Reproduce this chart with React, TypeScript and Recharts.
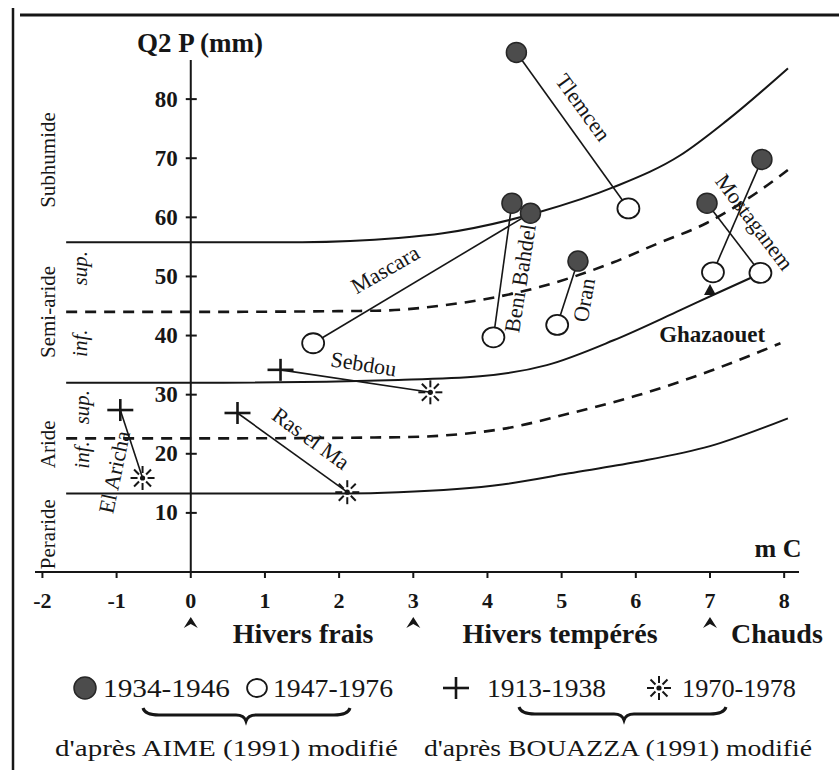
import React from 'react';
import { ComposedChart, Line, Scatter, XAxis, YAxis, ReferenceLine } from 'recharts';

const SERIF = '"Liberation Serif", "DejaVu Serif", serif';
const INK = '#161616';

const W = 839;
const H = 770;
const MARGIN = { top: 40, right: 40, bottom: 158, left: 35 };
const X_DOMAIN: [number, number] = [-2.1, 8.2];
const Y_DOMAIN: [number, number] = [0, 90];

// axes
const xTicks = [-2, -1, 0, 1, 2, 3, 4, 5, 6, 7, 8];
const yTicks = [10, 20, 30, 40, 50, 60, 70, 80];
const yAxisTop = 86.6;
const winterMarks = [0, 3, 7];

// bioclimatic limits [m, Q2]
const subhumideLimit = [[-1.68, 55.8], [0, 55.8], [1.5, 55.8], [2.8, 56.5], [3.4, 57.3], [4.7, 60.9], [5.7, 65.1], [6.6, 70.5], [7.23, 76.4], [8.05, 85.2]];
const semiArideSplit = [[-1.68, 44.0], [0, 44.0], [2.5, 44.2], [3.4, 45.1], [4.7, 48.2], [5.7, 52.4], [6.3, 55.6], [6.95, 59.0], [7.68, 64.6], [8.05, 68.0]];
const semiArideLimit = [[-1.68, 32.0], [0, 32.0], [2.8, 32.5], [3.9, 33.1], [4.8, 35.0], [5.7, 39.2], [6.6, 44.3], [7.1, 47.2], [7.68, 50.5]];
const arideSplit = [[-1.68, 22.6], [0, 22.6], [2.8, 22.8], [4.2, 24.2], [5.1, 26.8], [6.0, 29.8], [7.0, 34.0], [7.95, 38.7]];
const arideLimit = [[-1.68, 13.3], [0, 13.3], [2.1, 13.3], [2.8, 13.5], [4.2, 14.8], [5.1, 16.7], [6.0, 18.6], [7.0, 21.3], [8.05, 26.0]];

// stations: each pair joins two periods (A1 1934-46, A2 1947-76, B1 1913-38, B2 1970-78)
const tlemcen = [{ m: 4.39, q: 87.9, p: 'A1' }, { m: 5.9, q: 61.5, p: 'A2' }];
const mascara = [{ m: 1.65, q: 38.7, p: 'A2' }, { m: 4.58, q: 60.7, p: 'A1' }];
const beniBahdel = [{ m: 4.08, q: 39.7, p: 'A2' }, { m: 4.33, q: 62.4, p: 'A1' }];
const oran = [{ m: 4.94, q: 41.8, p: 'A2' }, { m: 5.22, q: 52.6, p: 'A1' }];
const mostaganemA = [{ m: 7.7, q: 69.8, p: 'A1' }, { m: 7.04, q: 50.7, p: 'A2' }];
const mostaganemB = [{ m: 6.96, q: 62.4, p: 'A1' }, { m: 7.68, q: 50.6, p: 'A2' }];
const sebdou = [{ m: 1.21, q: 34.2, p: 'B1' }, { m: 3.23, q: 30.4, p: 'B2' }];
const rasElMa = [{ m: 0.63, q: 26.9, p: 'B1' }, { m: 2.11, q: 13.5, p: 'B2' }];
const elAricha = [{ m: -0.95, q: 27.4, p: 'B1' }, { m: -0.65, q: 15.9, p: 'B2' }];
const ghazaouet = [{ m: 7.0, q: 47.7, p: 'T' }];

const stationLabels = [
  { m: 5.29, q: 78.6, text: 'Tlemcen', angle: 54 },
  { m: 2.62, q: 51.2, text: 'Mascara', angle: -30 },
  { m: 4.44, q: 49.7, text: 'Beni Bahdel', angle: -81 },
  { m: 5.3, q: 46.0, text: 'Oran', angle: -80 },
  { m: 7.6, q: 59.2, text: 'Mostaganem', angle: 53 },
  { m: 7.03, q: 40.1, text: 'Ghazaouet', angle: 0 },
  { m: 2.33, q: 35.2, text: 'Sebdou', angle: 9 },
  { m: 1.62, q: 22.6, text: 'Ras el Ma', angle: 36 },
  { m: -1.03, q: 16.9, text: 'El Aricha', angle: -78 },
];

const zoneLabels = [
  { m: -1.92, q: 69.7, text: 'Subhumide' },
  { m: -1.92, q: 44.0, text: 'Semi-aride' },
  { m: -1.49, q: 51.4, text: 'sup.' },
  { m: -1.49, q: 38.7, text: 'inf.' },
  { m: -1.92, q: 21.6, text: 'Aride' },
  { m: -1.47, q: 27.9, text: 'sup.' },
  { m: -1.47, q: 19.8, text: 'inf.' },
  { m: -1.92, q: 6.4, text: 'Peraride' },
];

const legendItems = [
  { p: 'A1', label: '1934-1946' },
  { p: 'A2', label: '1947-1976' },
  { p: 'B1', label: '1913-1938' },
  { p: 'B2', label: '1970-1978' },
];

const curve = (pts: number[][]) => pts.map(([m, q]) => ({ m, q }));

const plotW = W - MARGIN.left - MARGIN.right;
const px = (m: number) => MARGIN.left + ((m - X_DOMAIN[0]) / (X_DOMAIN[1] - X_DOMAIN[0])) * plotW;

function Marker({ p, cx, cy, s = 1 }: { p: string; cx: number; cy: number; s?: number }) {
  if (p === 'A1') {
    return <circle cx={cx} cy={cy} r={10 * s} fill="#4c4c4c" stroke="#262626" strokeWidth={1.5} />;
  }
  if (p === 'A2') {
    return <ellipse cx={cx} cy={cy} rx={11 * s} ry={10 * s} fill="#fff" stroke={INK} strokeWidth={1.8} />;
  }
  if (p === 'B1') {
    return (
      <g stroke={INK} strokeWidth={2.6}>
        <line x1={cx - 13} y1={cy} x2={cx + 13} y2={cy} />
        <line x1={cx} y1={cy - 11} x2={cx} y2={cy + 11} />
      </g>
    );
  }
  if (p === 'B2') {
    const rays = [0, 45, 90, 135, 180, 225, 270, 315];
    return (
      <g stroke={INK} strokeWidth={2}>
        {rays.map((a) => {
          const r = (a * Math.PI) / 180;
          return (
            <line key={a} x1={cx + 5 * Math.cos(r)} y1={cy + 5 * Math.sin(r)}
              x2={cx + 12 * Math.cos(r)} y2={cy + 12 * Math.sin(r)} />
          );
        })}
        <circle cx={cx} cy={cy} r={2.6} fill={INK} stroke="none" />
      </g>
    );
  }
  return <path d={`M${cx - 6},${cy + 5} L${cx},${cy - 6} L${cx + 6},${cy + 5} Z`} fill={INK} />;
}

const markerShape = (props: any) => <Marker p={props.payload.p} cx={props.cx} cy={props.cy} />;

const stationLabelShape = (props: any) => {
  const { cx, cy, payload } = props;
  const bold = payload.text === 'Ghazaouet';
  return (
    <text x={cx} y={cy} transform={`rotate(${payload.angle} ${cx} ${cy})`} textAnchor="middle"
      dominantBaseline="central" fontFamily={SERIF} fontSize={bold ? 23 : 22}
      fontWeight={bold ? 700 : 400} fill={INK}>
      {payload.text}
    </text>
  );
};

const zoneLabelShape = (props: any) => {
  const { cx, cy, payload } = props;
  const small = payload.text === 'sup.' || payload.text === 'inf.';
  return (
    <text x={cx} y={cy} transform={`rotate(-90 ${cx} ${cy})`} textAnchor="middle"
      dominantBaseline="central" fontFamily={SERIF} fontSize={21}
      fontStyle={small ? 'italic' : 'normal'} fill={INK}>
      {payload.text}
    </text>
  );
};

const yTickShape = (props: any) => {
  const { cx, cy, payload } = props;
  return (
    <g>
      <line x1={cx - 5} y1={cy} x2={cx + 6} y2={cy} stroke={INK} strokeWidth={2} />
      <text x={cx - 13} y={cy} textAnchor="end" dominantBaseline="central" fontFamily={SERIF}
        fontSize={23} fontWeight={700} fill={INK}>
        {payload.q}
      </text>
    </g>
  );
};

const brace = (x1: number, x2: number, tip: number, y: number) =>
  `M${x1},${y - 7} Q${x1 + 2},${y} ${x1 + 16},${y} L${tip - 10},${y} Q${tip - 2},${y} ${tip},${y + 6} ` +
  `Q${tip + 2},${y} ${tip + 10},${y} L${x2 - 16},${y} Q${x2 - 2},${y} ${x2},${y - 7}`;

export default function App() {
  const lineProps = { stroke: INK, strokeWidth: 1.6 };
  const legendX = [85, 257, 456, 659];
  const legendTextX = [103, 273, 487, 682];
  const legendLen = [127, 120, 119, 114];

  return (
    <div style={{ position: 'absolute', left: 0, top: 0, width: W, height: H, background: '#fff' }}>
      <ComposedChart width={W} height={H} margin={MARGIN}>
        <XAxis
          dataKey="m"
          type="number"
          domain={X_DOMAIN}
          ticks={xTicks}
          allowDataOverflow
          height={40}
          tickSize={6}
          tickMargin={14}
          axisLine={{ stroke: INK, strokeWidth: 2 }}
          tickLine={{ stroke: INK, strokeWidth: 2 }}
          tick={{ fontFamily: SERIF, fontSize: 22, fontWeight: 700, fill: INK }}
        />
        <YAxis dataKey="q" type="number" domain={Y_DOMAIN} allowDataOverflow hide width={0} />
        <ReferenceLine segment={[{ x: 0, y: 0 }, { x: 0, y: yAxisTop }]} stroke={INK} strokeWidth={2} />

        <Line data={curve(subhumideLimit)} dataKey="q" type="monotone" stroke={INK} strokeWidth={2}
          dot={false} activeDot={false} isAnimationActive={false} />
        <Line data={curve(semiArideSplit)} dataKey="q" type="monotone" stroke={INK} strokeWidth={2.6}
          strokeDasharray="11 8" dot={false} activeDot={false} isAnimationActive={false} />
        <Line data={curve(semiArideLimit)} dataKey="q" type="monotone" stroke={INK} strokeWidth={2}
          dot={false} activeDot={false} isAnimationActive={false} />
        <Line data={curve(arideSplit)} dataKey="q" type="monotone" stroke={INK} strokeWidth={2.6}
          strokeDasharray="11 8" dot={false} activeDot={false} isAnimationActive={false} />
        <Line data={curve(arideLimit)} dataKey="q" type="monotone" stroke={INK} strokeWidth={2}
          dot={false} activeDot={false} isAnimationActive={false} />

        {[tlemcen, mascara, beniBahdel, oran, mostaganemA, mostaganemB, sebdou, rasElMa, elAricha].map((d, i) => (
          <Scatter key={i} data={d} line={lineProps} lineType="joint" shape={markerShape} isAnimationActive={false} />
        ))}
        <Scatter data={ghazaouet} shape={markerShape} isAnimationActive={false} />

        <Scatter data={yTicks.map((q) => ({ m: 0, q }))} shape={yTickShape} isAnimationActive={false} />
        <Scatter data={stationLabels} shape={stationLabelShape} isAnimationActive={false} />
        <Scatter data={zoneLabels} shape={zoneLabelShape} isAnimationActive={false} />
      </ComposedChart>

      <svg width={W} height={H} style={{ position: 'absolute', left: 0, top: 0, pointerEvents: 'none' }}>
        <line x1={13} y1={8} x2={13} y2={H} stroke={INK} strokeWidth={2.5} />
        <line x1={20} y1={15} x2={W} y2={15} stroke={INK} strokeWidth={3} />

        <text x={200} y={52} textAnchor="middle" fontFamily={SERIF} fontSize={27} fontWeight={700} fill={INK}>
          Q2 P (mm)
        </text>
        <text x={778} y={557} textAnchor="middle" fontFamily={SERIF} fontSize={26} fontWeight={700} fill={INK}>
          m C
        </text>

        {winterMarks.map((m) => {
          const x = px(m);
          return <path key={m} d={`M${x - 7},628 L${x},617 L${x + 7},628 L${x},624 Z`} fill={INK} />;
        })}
        <g fontFamily={SERIF} fontSize={28} fontWeight={700} fill={INK}>
          <text x={303} y={643} textAnchor="middle">Hivers frais</text>
          <text x={560} y={643} textAnchor="middle">Hivers tempérés</text>
          <text x={731} y={643}>Chauds</text>
        </g>

        {legendItems.map((it, i) => (
          <g key={it.p}>
            <Marker p={it.p} cx={legendX[i]} cy={688} s={it.p === 'A2' ? 0.9 : 1.1} />
            <text x={legendTextX[i]} y={697} fontFamily={SERIF} fontSize={26} fill={INK}
              textLength={legendLen[i]} lengthAdjust="spacingAndGlyphs">
              {it.label}
            </text>
          </g>
        ))}

        <path d={brace(143, 350, 246, 715)} fill="none" stroke={INK} strokeWidth={3} />
        <path d={brace(519, 726, 624, 714)} fill="none" stroke={INK} strokeWidth={3} />

        <g fontFamily={SERIF} fontSize={24} fill={INK}>
          <text x={55} y={756} textLength={343} lengthAdjust="spacingAndGlyphs">d'après AIME (1991) modifié</text>
          <text x={424} y={756} textLength={388} lengthAdjust="spacingAndGlyphs">d'après BOUAZZA (1991) modifié</text>
        </g>
      </svg>
    </div>
  );
}
